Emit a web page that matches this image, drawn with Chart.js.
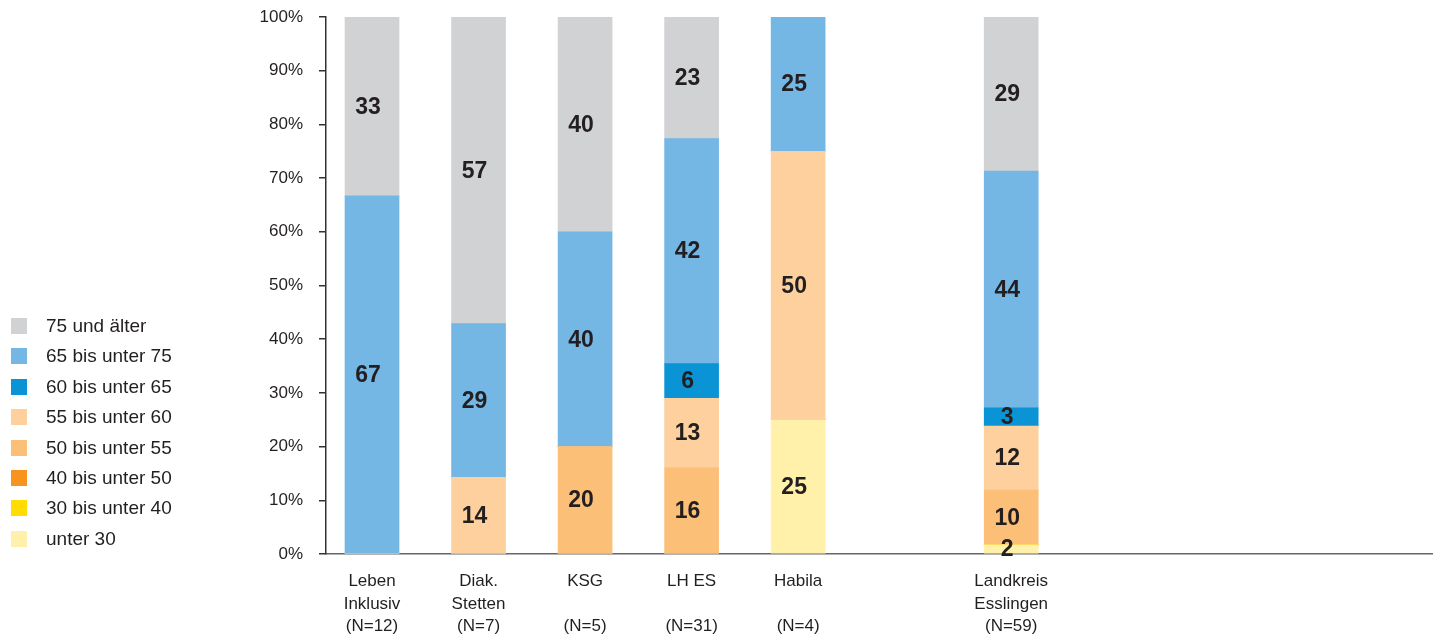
<!DOCTYPE html>
<html>
<head>
<meta charset="utf-8">
<script src="https://cdn.jsdelivr.net/npm/chart.js@4"></script>
<style>
  body { margin: 0; background: #fff; }
  #wrap { position: relative; width: 1435px; height: 635px; }
  #legend { position: absolute; left: 11px; top: 318px; font: 19px "Liberation Sans", Arial, sans-serif; color: #231f20; }
  .item { height: 30.4px; position: relative; }
  .box { position: absolute; left: 0; top: 0; width: 16px; height: 16px; }
  .txt { position: absolute; left: 35px; top: -2px; line-height: 20px; white-space: nowrap; }
</style>
</head>
<body>
<div id="wrap">
  <canvas id="chart" width="1435" height="635"></canvas>
  <div id="legend"></div>
</div>
<script>
// categories (the empty one is the gap before Landkreis)
const categories = [
  ['Leben', 'Inklusiv', '(N=12)'],
  ['Diak.', 'Stetten', '(N=7)'],
  ['KSG', '', '(N=5)'],
  ['LH ES', '', '(N=31)'],
  ['Habila', '', '(N=4)'],
  null,
  ['Landkreis', 'Esslingen', '(N=59)']
]

// percentages, bottom of stack first
const unter30   = [0, 0, 0, 0, 25, null, 1.7]
const bis40     = [0, 0, 0, 0, 0, null, 0]
const bis50     = [0, 0, 0, 0, 0, null, 0]
const bis55     = [0, 0, 20, 16.1, 0, null, 10.2]
const bis60     = [0, 14.3, 0, 12.9, 50, null, 11.9]
const bis65     = [0, 0, 0, 6.45, 0, null, 3.4]
const bis75     = [66.7, 28.6, 40, 41.9, 25, null, 44.1]
const ab75      = [33.3, 57.1, 40, 22.6, 0, null, 28.7]

const seriesNames = ['unter 30', '30 bis unter 40', '40 bis unter 50', '50 bis unter 55',
  '55 bis unter 60', '60 bis unter 65', '65 bis unter 75', '75 und älter']
const seriesValues = [unter30, bis40, bis50, bis55, bis60, bis65, bis75, ab75]
const seriesColors = ['#fff0aa', '#ffdd00', '#f7941e', '#fbbf77', '#fdd09e', '#0a94d6', '#74b6e4', '#d1d2d4']

const yTicks = [0, 10, 20, 30, 40, 50, 60, 70, 80, 90, 100]

function toPoints(values){
  return values.map((v, i) => v == null ? null : {x: i, y: v}).filter(p => p)
}

const datasets = seriesNames.map((name, i) => ({
  label: name,
  data: toPoints(seriesValues[i]),
  backgroundColor: seriesColors[i],
  borderWidth: 0,
  barThickness: 54
}))

const segmentLabels = {
  id: 'segmentLabels',
  afterDatasetsDraw(chart){
    const ctx = chart.ctx
    ctx.save()
    ctx.font = 'bold 23px "Liberation Sans", Arial, sans-serif'
    ctx.fillStyle = '#231f20'
    ctx.textAlign = 'center'
    ctx.textBaseline = 'middle'
    chart.data.datasets.forEach((ds, di) => {
      const meta = chart.getDatasetMeta(di)
      meta.data.forEach((bar, j) => {
        const v = ds.data[j].y
        if(!v){ return }
        ctx.fillText(Math.round(v), bar.x - 4, (bar.y + bar.base) / 2 + 1)
      })
    })
    ctx.restore()
  }
}

const chart = new Chart(document.querySelector('#chart'), {
  type: 'bar',
  data: { datasets: datasets },
  options: {
    responsive: false,
    animation: false,
    layout: { padding: { top: 17, right: 3, left: 0, bottom: 0 } },
    plugins: { legend: { display: false }, tooltip: { enabled: false } },
    scales: {
      x: {
        type: 'linear',
        stacked: true,
        offset: false,
        min: -0.432,
        max: 9.95,
        grid: { display: false, drawTicks: false },
        border: { display: true, color: '#666', width: 1.5 },
        afterBuildTicks: (scale) => {
          scale.ticks = categories.map((c, i) => c ? {value: i} : null).filter(t => t)
        },
        afterFit: (scale) => { scale.height = 81 },
        ticks: {
          autoSkip: false,
          maxRotation: 0,
          padding: 16,
          color: '#231f20',
          font: { family: '"Liberation Sans", Arial, sans-serif', size: 17, lineHeight: 1.33 },
          callback: (value) => categories[value] || ''
        }
      },
      y: {
        stacked: true,
        min: 0,
        max: 100,
        afterBuildTicks: (scale) => { scale.ticks = yTicks.map(v => ({value: v})) },
        afterFit: (scale) => {
          scale.width = 326
          scale.paddingTop = 0
          scale.paddingBottom = 0
        },
        grid: { drawOnChartArea: false, drawTicks: true, tickLength: 7, color: '#333', lineWidth: 1.5 },
        border: { display: true, color: '#333', width: 1.5 },
        ticks: {
          padding: 16,
          color: '#231f20',
          font: { family: '"Liberation Sans", Arial, sans-serif', size: 17 },
          callback: (v) => v + '%'
        }
      }
    }
  },
  plugins: [segmentLabels]
})

// legend: top of stack first
const legend = document.querySelector('#legend')
for(let i = seriesNames.length - 1; i >= 0; i--){
  const item = document.createElement('div')
  item.className = 'item'
  item.innerHTML = '<span class="box" style="background:' + seriesColors[i] + '"></span><span class="txt">' + seriesNames[i] + '</span>'
  legend.appendChild(item)
}
</script>
</body>
</html>
